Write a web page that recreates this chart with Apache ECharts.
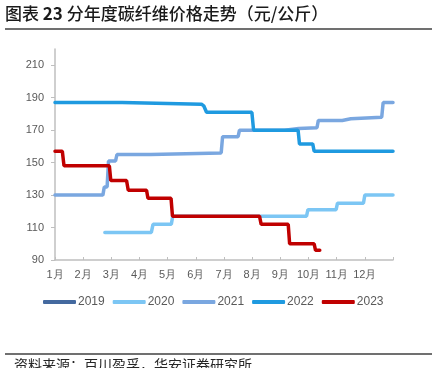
<!DOCTYPE html>
<html>
<head>
<meta charset="utf-8">
<script src="https://cdn.jsdelivr.net/npm/echarts@6/dist/echarts.min.js"></script>
<style>
html,body{margin:0;padding:0;background:#fff;}
#main{width:432px;height:368px;}
</style>
</head>
<body>
<div id="main"></div>
<script>
// x = months elapsed since 1月1日 (0..12), y = 元/公斤
var monthLabels = ['1月','2月','3月','4月','5月','6月','7月','8月','9月','10月','11月','12月'];
var yTicks = [90, 110, 130, 150, 170, 190, 210];
var years = ['2019', '2020', '2021', '2022', '2023'];
var colors = ['#44699f', '#7cc6f4', '#7aa7e0', '#1f9ae0', '#c00000'];

var p2019 = [];
var p2020 = [[1.77,107],[3.42,107],[3.48,112],[4.13,112],[4.18,117],[8.93,117],[8.98,121],[9.98,121],[10.03,125],[10.95,125],[11.0,130],[12,130]];
var p2021 = [[0,130],[1.7,130],[1.75,135],[1.85,135],[1.9,151],[2.15,151],[2.2,155],[3.4,155],[3.45,156],[5.9,156],[5.95,166],[6.5,166],[6.55,170],[8.15,170],[8.2,171],[8.65,171],[8.7,171.5],[9.3,171.5],[9.35,176],[10.2,176],[10.25,177],[10.5,177],[10.55,178],[11.6,178],[11.65,187],[12,187]];
var p2022 = [[0,187],[2.38,187],[2.42,186],[5.2,186],[5.28,185],[5.38,181],[6.99,181],[7.05,170],[8.63,170],[8.68,161.5],[9.15,161.5],[9.2,157],[12,157]];
var p2023 = [[0,157],[0.26,157],[0.32,148],[1.93,148],[1.98,139],[2.54,139],[2.6,133],[3.25,133],[3.3,128],[4.12,128],[4.17,117],[7.26,117],[7.32,112],[8.28,112],[8.33,100],[9.2,100],[9.25,96],[9.4,96]];
var seriesData = [p2019, p2020, p2021, p2022, p2023];

var myChart = echarts.init(document.getElementById('main'));

var series = [];
for (var i = 0; i < years.length; i++) {
    series.push({
        name: years[i],
        type: 'line',
        data: seriesData[i],
        symbol: 'none',
        lineStyle: { width: 3.5, color: colors[i], cap: 'round' },
        itemStyle: { color: colors[i] }
    });
}

var option = {
    animation: false,
    backgroundColor: '#fff',
    grid: { left: 55, right: 39, top: 49, bottom: 108 },
    xAxis: {
        type: 'value',
        min: 0,
        max: 12,
        interval: 1,
        axisLine: { lineStyle: { color: '#bfbfbf', width: 1.5 } },
        axisTick: { inside: true, length: 3, lineStyle: { color: '#bfbfbf' } },
        axisLabel: {
            color: '#595959',
            fontSize: 11,
            margin: 9,
            formatter: function (v) { return v < 12 ? monthLabels[v] : ''; }
        },
        splitLine: { show: false }
    },
    yAxis: {
        type: 'value',
        min: 90,
        max: 220,
        interval: 20,
        axisLine: { show: true, lineStyle: { color: '#bfbfbf', width: 1.5 } },
        axisTick: { show: true, length: 4, customValues: yTicks, lineStyle: { color: '#bfbfbf' } },
        axisLabel: { color: '#595959', fontSize: 11, margin: 11, customValues: yTicks },
        splitLine: { show: false }
    },
    legend: {
        left: 43,
        top: 296,
        padding: 0,
        itemWidth: 33,
        itemHeight: 4,
        itemGap: 8,
        icon: 'roundRect',
        textStyle: { color: '#595959', fontSize: 12, padding: [0, 0, 0, -3] },
        data: years
    },
    graphic: [
        {
            type: 'text', left: 5, top: 5,
            style: {
                text: '图表 {b|23} 分年度碳纤维价格走势（元/公斤）',
                fill: '#1a1a1a',
                font: '500 17px "Noto Sans CJK SC"',
                rich: { b: { font: 'bold 17px "Noto Sans CJK SC"', fill: '#1a1a1a' } }
            }
        },
        { type: 'line', shape: { x1: 5, y1: 29, x2: 432, y2: 29 }, style: { stroke: '#404040', lineWidth: 1.5 } },
        { type: 'line', shape: { x1: 5, y1: 354, x2: 432, y2: 354 }, style: { stroke: '#404040', lineWidth: 1.5 } },
        {
            type: 'text', left: 14, top: 358,
            style: { text: '资料来源：百川盈孚，华安证券研究所', fill: '#262626', font: '14px "Noto Sans CJK SC"' }
        }
    ],
    series: series
};
myChart.setOption(option);
</script>
</body>
</html>
